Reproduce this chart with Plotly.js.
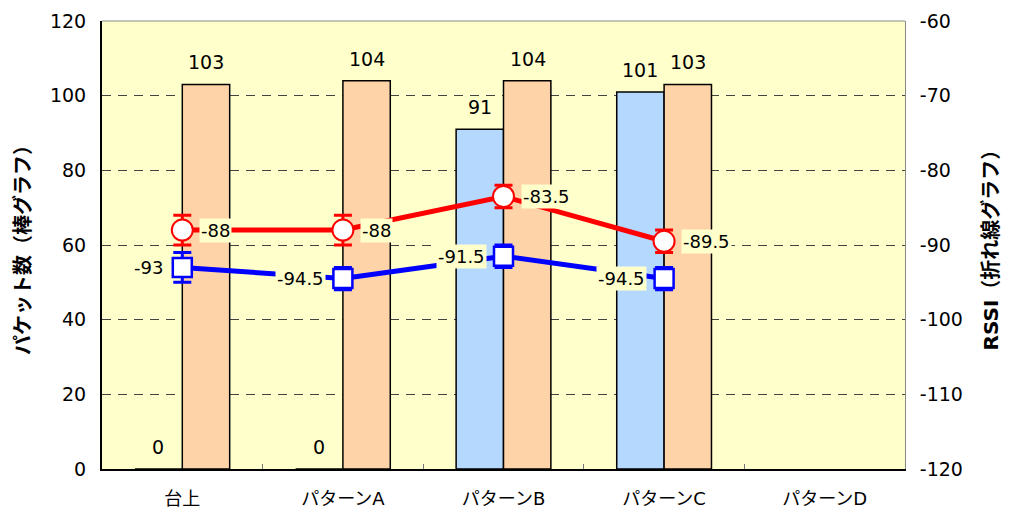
<!DOCTYPE html>
<html>
<head>
<meta charset="utf-8">
<script src="https://cdn.plot.ly/plotly-3.0.1.min.js"></script>
<style>html,body{margin:0;padding:0;background:#fff}#c{width:1009px;height:516px}</style>
</head>
<body>
<div id="c"></div>
<script>
var categories = ["台上", "パターンA", "パターンB", "パターンC", "パターンD"];
var packetsBlue = [0, 0, 91, 101, null];
var packetsOrange = [103, 104, 104, 103, null];
var lineCats = ["台上", "パターンA", "パターンB", "パターンC"];
var rssiRed = [-88, -88, -83.5, -89.5];
var rssiRedErr = [2, 2, 1.5, 1.5];
var rssiBlue = [-93, -94.5, -91.5, -94.5];
var rssiBlueErr = [2, 1.5, 1.5, 1.5];
var rssiTickVals = [-120, -110, -100, -90, -80, -70, -60];
var rssiTickText = ["-120", "-110", "-100", "-90", "-80", "-70", "-60"];

var FONT = '"DejaVu Sans", "Noto Sans CJK JP", sans-serif';

var traces = [
  {
    type: 'bar', x: categories, y: packetsBlue,
    marker: {color: '#B5D8FF', line: {color: '#000', width: 1.5}},
    hoverinfo: 'skip'
  },
  {
    type: 'bar', x: categories, y: packetsOrange,
    marker: {color: '#FFD3A8', line: {color: '#000', width: 1.5}},
    hoverinfo: 'skip'
  },
  {
    type: 'scatter', mode: 'lines+markers', x: lineCats, y: rssiBlue, yaxis: 'y2',
    line: {color: '#0000FF', width: 5},
    marker: {symbol: 'square', size: 19, color: '#FFFFFF', line: {color: '#0000FF', width: 2.5}},
    error_y: {type: 'data', array: rssiBlueErr, visible: true, color: '#0000FF', thickness: 3, width: 9},
    hoverinfo: 'skip', cliponaxis: false
  },
  {
    type: 'scatter', mode: 'lines+markers', x: lineCats, y: rssiRed, yaxis: 'y2',
    line: {color: '#FF0000', width: 5},
    marker: {symbol: 'circle', size: 21, color: '#FFFFFF', line: {color: '#FF0000', width: 2}},
    error_y: {type: 'data', array: rssiRedErr, visible: true, color: '#FF0000', thickness: 3, width: 9},
    hoverinfo: 'skip', cliponaxis: false
  }
];

var annotations = [];
categories.forEach(function(c, i){
  if (packetsBlue[i] !== null) annotations.push({
    x: c, y: packetsBlue[i], xref: 'x', yref: 'y', text: String(packetsBlue[i]),
    showarrow: false, xanchor: 'center', yanchor: 'bottom', xshift: -24, yshift: 9,
    font: {size: 19, color: '#000', family: FONT}
  });
  if (packetsOrange[i] !== null) annotations.push({
    x: c, y: packetsOrange[i], xref: 'x', yref: 'y', text: String(packetsOrange[i]),
    showarrow: false, xanchor: 'center', yanchor: 'bottom', xshift: 24, yshift: 9,
    font: {size: 19, color: '#000', family: FONT}
  });
});
lineCats.forEach(function(c, i){
  annotations.push({
    x: c, y: rssiRed[i], xref: 'x', yref: 'y2', text: String(rssiRed[i]),
    showarrow: false, xanchor: 'left', xshift: 17, bgcolor: '#FFFFCC',
    font: {size: 18, color: '#000', family: FONT}
  });
  annotations.push({
    x: c, y: rssiBlue[i], xref: 'x', yref: 'y2', text: String(rssiBlue[i]),
    showarrow: false, xanchor: 'right', xshift: -17, bgcolor: '#FFFFCC',
    font: {size: 18, color: '#000', family: FONT}
  });
});

var layout = {
  width: 1009, height: 516,
  margin: {l: 102, r: 104, t: 21, b: 47},
  paper_bgcolor: '#FFFFFF', plot_bgcolor: '#FFFFCC',
  showlegend: false, barmode: 'group', bargap: 0.41, bargroupgap: 0,
  font: {family: FONT, color: '#000', size: 18},
  xaxis: {
    type: 'category', categoryorder: 'array', categoryarray: categories,
    showline: true, linecolor: '#000', linewidth: 2, mirror: false,
    ticks: 'inside', tickson: 'boundaries', ticklen: 5, tickcolor: '#777', tickwidth: 1,
    tickfont: {size: 18, family: FONT}, ticklabelstandoff: 12, showgrid: false, zeroline: false
  },
  yaxis: {
    range: [0, 120], dtick: 20, showline: true, linecolor: '#000', linewidth: 2,
    showgrid: true, gridcolor: '#444', griddash: '9px,7px', gridwidth: 1, zeroline: false,
    tickfont: {size: 19, family: FONT}, ticklen: 0, ticklabelstandoff: 10,
    title: {text: 'パケット数（棒グラフ）', font: {size: 20, family: FONT, weight: 'bold'}, standoff: 14}
  },
  yaxis2: {
    overlaying: 'y', side: 'right', range: [-120, -60],
    tickmode: 'array', tickvals: rssiTickVals, ticktext: rssiTickText,
    showline: true, linecolor: '#888', linewidth: 1, showgrid: false, zeroline: false,
    tickfont: {size: 19, family: FONT}, ticklabelstandoff: 10,
    title: {text: 'RSSI（折れ線グラフ）', font: {size: 20, family: FONT, weight: 'bold'}, standoff: 22}
  },
  shapes: [{type: 'line', xref: 'paper', yref: 'paper', x0: 0, x1: 1, y0: 1, y1: 1, line: {color: '#888', width: 1}}],
  annotations: annotations,
  hovermode: false
};

Plotly.newPlot('c', traces, layout, {displayModeBar: false, staticPlot: true});
</script>
</body>
</html>
